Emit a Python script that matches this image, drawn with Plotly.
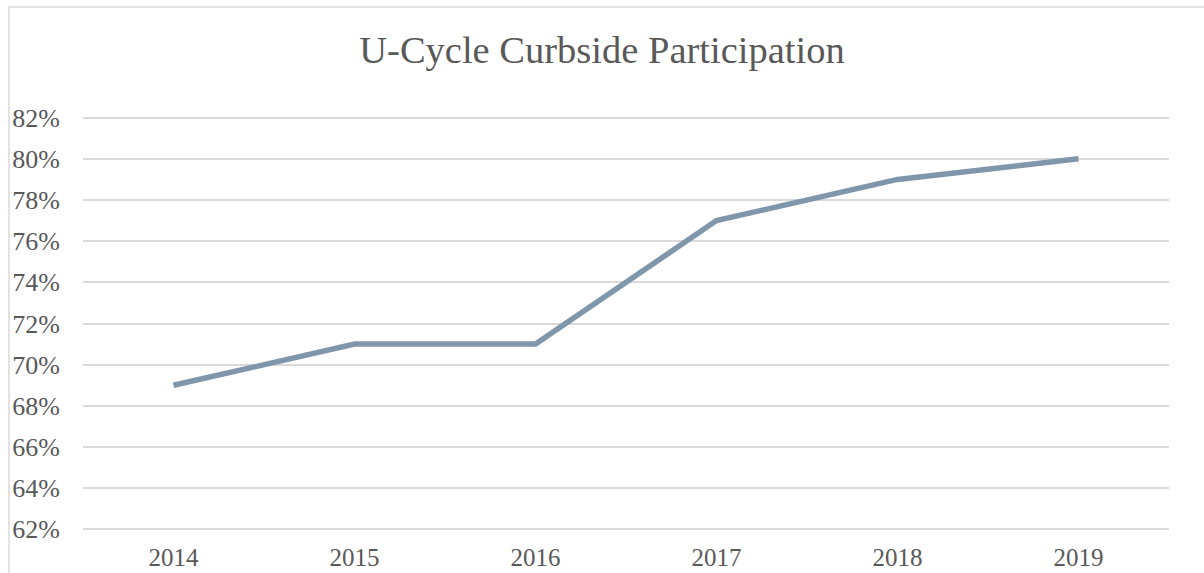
import plotly.graph_objects as go

years = ["2014", "2015", "2016", "2017", "2018", "2019"]
participation = [0.69, 0.71, 0.71, 0.77, 0.79, 0.80]
y_ticks = [0.62, 0.64, 0.66, 0.68, 0.70, 0.72, 0.74, 0.76, 0.78, 0.80, 0.82]
y_tick_labels = [f"{round(v*100)}%" for v in y_ticks]

W, H = 1204, 573
L, R, T, B = 83, 35, 116, 42
pw, ph = W - L - R, H - T - B

fig = go.Figure()
fig.add_trace(go.Scatter(
    x=years, y=participation, mode="lines",
    line=dict(color="#7f96ab", width=5.5),
    showlegend=False, hoverinfo="skip",
))

font_family = "Liberation Serif"
fig.update_layout(
    width=W, height=H,
    margin=dict(l=L, r=R, t=T, b=B),
    paper_bgcolor="white", plot_bgcolor="white",
    title=dict(text="U-Cycle Curbside Participation", x=0.5, xanchor="center",
               y=1 - 50 / H, yanchor="middle",
               font=dict(family=font_family, size=38.5, color="#595959")),
    font=dict(family=font_family, color="#595959"),
    xaxis=dict(type="category", range=[-0.5, 5.5], showgrid=False, showline=False,
               ticks="", tickfont=dict(size=25, color="#595959"), ticklabelstandoff=9,
               zeroline=False, automargin=False),
    yaxis=dict(range=[0.6192, 0.8208], tickvals=y_ticks, ticktext=y_tick_labels,
               showgrid=True, gridcolor="#d9d9d9", gridwidth=1.5, zeroline=False,
               showline=False, ticks="", tickfont=dict(size=26, color="#595959"),
               ticklabelstandoff=22, automargin=False),
    shapes=[dict(type="rect", xref="paper", yref="paper",
                 x0=(9 - L) / pw, x1=(W + 20 - L) / pw,
                 y0=-(B + 20) / ph, y1=1 + (T - 7) / ph,
                 line=dict(color="#d9d9d9", width=1.5), layer="below")],
)

fig.write_html("out.html", config={"displayModeBar": False},
               post_script="document.body.style.margin='0';")
